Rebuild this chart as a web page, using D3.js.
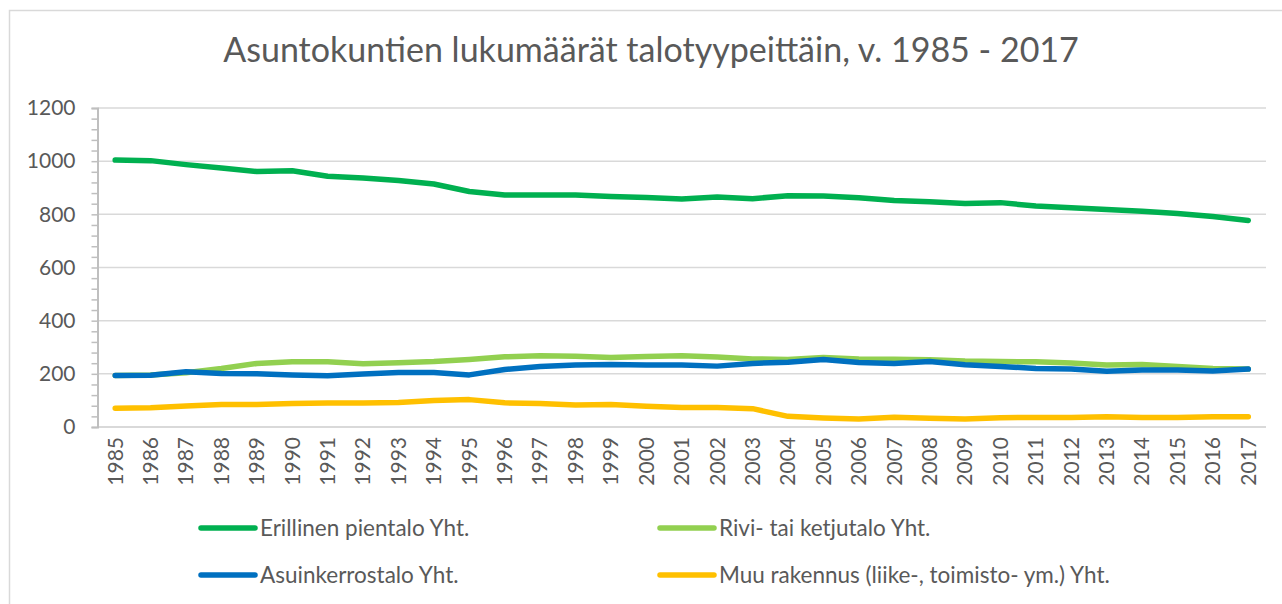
<!DOCTYPE html>
<html>
<head>
<meta charset="utf-8">
<script src="https://cdn.jsdelivr.net/npm/d3@7"></script>
<style>
  html, body { margin: 0; padding: 0; background: #ffffff; }
  svg { display: block; }
  text { font-family: Lato, "Open Sans", "DejaVu Sans", sans-serif; fill: #595959; }
</style>
</head>
<body>
<svg id="chart" width="1282" height="604"></svg>
<script>
// Household counts by building type, 1985-2017
const years = d3.range(1985, 2018).map(String);

const erillinen = [1004, 1002, 987, 974, 961, 964, 943, 937, 927, 914, 886, 873, 873, 873, 867, 863, 858, 865, 859, 870, 869, 862, 852, 847, 841, 844, 831, 825, 818, 812, 803, 792, 777];
const rivi      = [194, 196, 204, 220, 239, 245, 245, 238, 242, 246, 254, 264, 268, 266, 261, 265, 268, 263, 256, 254, 261, 256, 255, 253, 248, 246, 245, 241, 233, 235, 228, 220, 218];
const asuin     = [194, 195, 208, 201, 200, 196, 193, 199, 205, 205, 196, 216, 228, 233, 235, 233, 233, 229, 239, 244, 254, 243, 239, 246, 234, 228, 220, 218, 210, 214, 214, 211, 218];
const muu       = [71, 72, 79, 85, 85, 88, 90, 90, 92, 100, 103, 91, 88, 83, 85, 78, 73, 73, 69, 40, 34, 30, 37, 33, 30, 35, 36, 36, 39, 36, 36, 39, 39];

const seriesNames  = ["Erillinen pientalo Yht.", "Rivi- tai ketjutalo Yht.", "Asuinkerrostalo Yht.", "Muu rakennus (liike-, toimisto- ym.) Yht."];
const seriesColors = ["#00b050", "#92d050", "#0070c0", "#ffc000"];
const seriesValues = [erillinen, rivi, asuin, muu];

const yTicks = [0, 200, 400, 600, 800, 1000, 1200];
const titleText = "Asuntokuntien lukumäärät talotyypeittäin, v. 1985 - 2017";

const svg = d3.select("#chart");

// chart frame
svg.append("rect")
  .attr("x", 9.5).attr("y", 10.5)
  .attr("width", 1290).attr("height", 610)
  .attr("fill", "#ffffff")
  .attr("stroke", "#d9d9d9").attr("stroke-width", 1.5);

// title, sized to its intended width
const title = svg.append("text")
  .attr("x", 651).attr("y", 62)
  .attr("text-anchor", "middle")
  .style("font-size", "30px")
  .text(titleText);
{
  const w = title.node().getComputedTextLength();
  title.style("font-size", (30 * 856 / w).toFixed(2) + "px");
}

const plotLeft = 97.5, plotRight = 1266, plotTop = 108, plotBottom = 427;

const x = d3.scaleBand().domain(years).range([plotLeft, plotRight]);
const y = d3.scaleLinear().domain([0, 1200]).range([plotBottom, plotTop]);
const cx = d => x(d) + x.bandwidth() / 2;

// horizontal gridlines
svg.append("g")
  .selectAll("line")
  .data(yTicks.filter(v => v > 0))
  .join("line")
  .attr("x1", plotLeft).attr("x2", plotRight)
  .attr("y1", d => y(d)).attr("y2", d => y(d))
  .attr("stroke", "#d9d9d9").attr("stroke-width", 1.5);

// category (x) axis line
svg.append("line")
  .attr("x1", plotLeft).attr("x2", plotRight)
  .attr("y1", y(0)).attr("y2", y(0))
  .attr("stroke", "#d9d9d9").attr("stroke-width", 2);

// value axis with minor ticks every 40
const yAxis = d3.axisLeft(y)
  .tickValues(d3.range(0, 1201, 40))
  .tickSize(6)
  .tickPadding(16)
  .tickFormat(d => (d % 200 === 0 ? String(d) : ""));

const gy = svg.append("g")
  .attr("transform", `translate(${plotLeft},0)`)
  .call(yAxis);
gy.select(".domain").attr("stroke", "#bfbfbf").attr("stroke-width", 2);
gy.selectAll(".tick line").attr("stroke", "#bfbfbf").attr("stroke-width", 1.5);
gy.selectAll(".tick text")
  .style("font-size", "21px")
  .attr("fill", "#595959")
  .attr("font-family", null);

// x axis labels, rotated
const xAxis = d3.axisBottom(x).tickSize(0).tickPadding(0);
const gx = svg.append("g")
  .attr("transform", `translate(0,${plotBottom})`)
  .call(xAxis);
gx.select(".domain").remove();
gx.selectAll(".tick text")
  .attr("transform", "rotate(-90)")
  .attr("x", -10).attr("y", 0).attr("dy", "0.35em")
  .attr("text-anchor", "end")
  .style("font-size", "21px")
  .attr("fill", "#595959")
  .attr("font-family", null);

// series lines
const line = d3.line()
  .x((d, i) => cx(years[i]))
  .y(d => y(d));

svg.append("g")
  .selectAll("path")
  .data(seriesValues)
  .join("path")
  .attr("d", d => line(d))
  .attr("fill", "none")
  .attr("stroke", (d, i) => seriesColors[i])
  .attr("stroke-width", 5.5)
  .attr("stroke-linecap", "round")
  .attr("stroke-linejoin", "round");

// legend, two columns by two rows
const legendPos = [
  { x: 201, y: 528 }, { x: 660, y: 528 },
  { x: 201, y: 575 }, { x: 660, y: 575 }
];
const lg = svg.append("g")
  .selectAll("g")
  .data(seriesNames)
  .join("g")
  .attr("transform", (d, i) => `translate(${legendPos[i].x},${legendPos[i].y})`);
lg.append("line")
  .attr("x1", 0).attr("x2", 54)
  .attr("y1", 0).attr("y2", 0)
  .attr("stroke", (d, i) => seriesColors[i])
  .attr("stroke-width", 5.5)
  .attr("stroke-linecap", "round");
lg.append("text")
  .attr("x", 59).attr("y", 0).attr("dy", "0.35em")
  .style("font-size", "22.5px")
  .text(d => d);
</script>
</body>
</html>
